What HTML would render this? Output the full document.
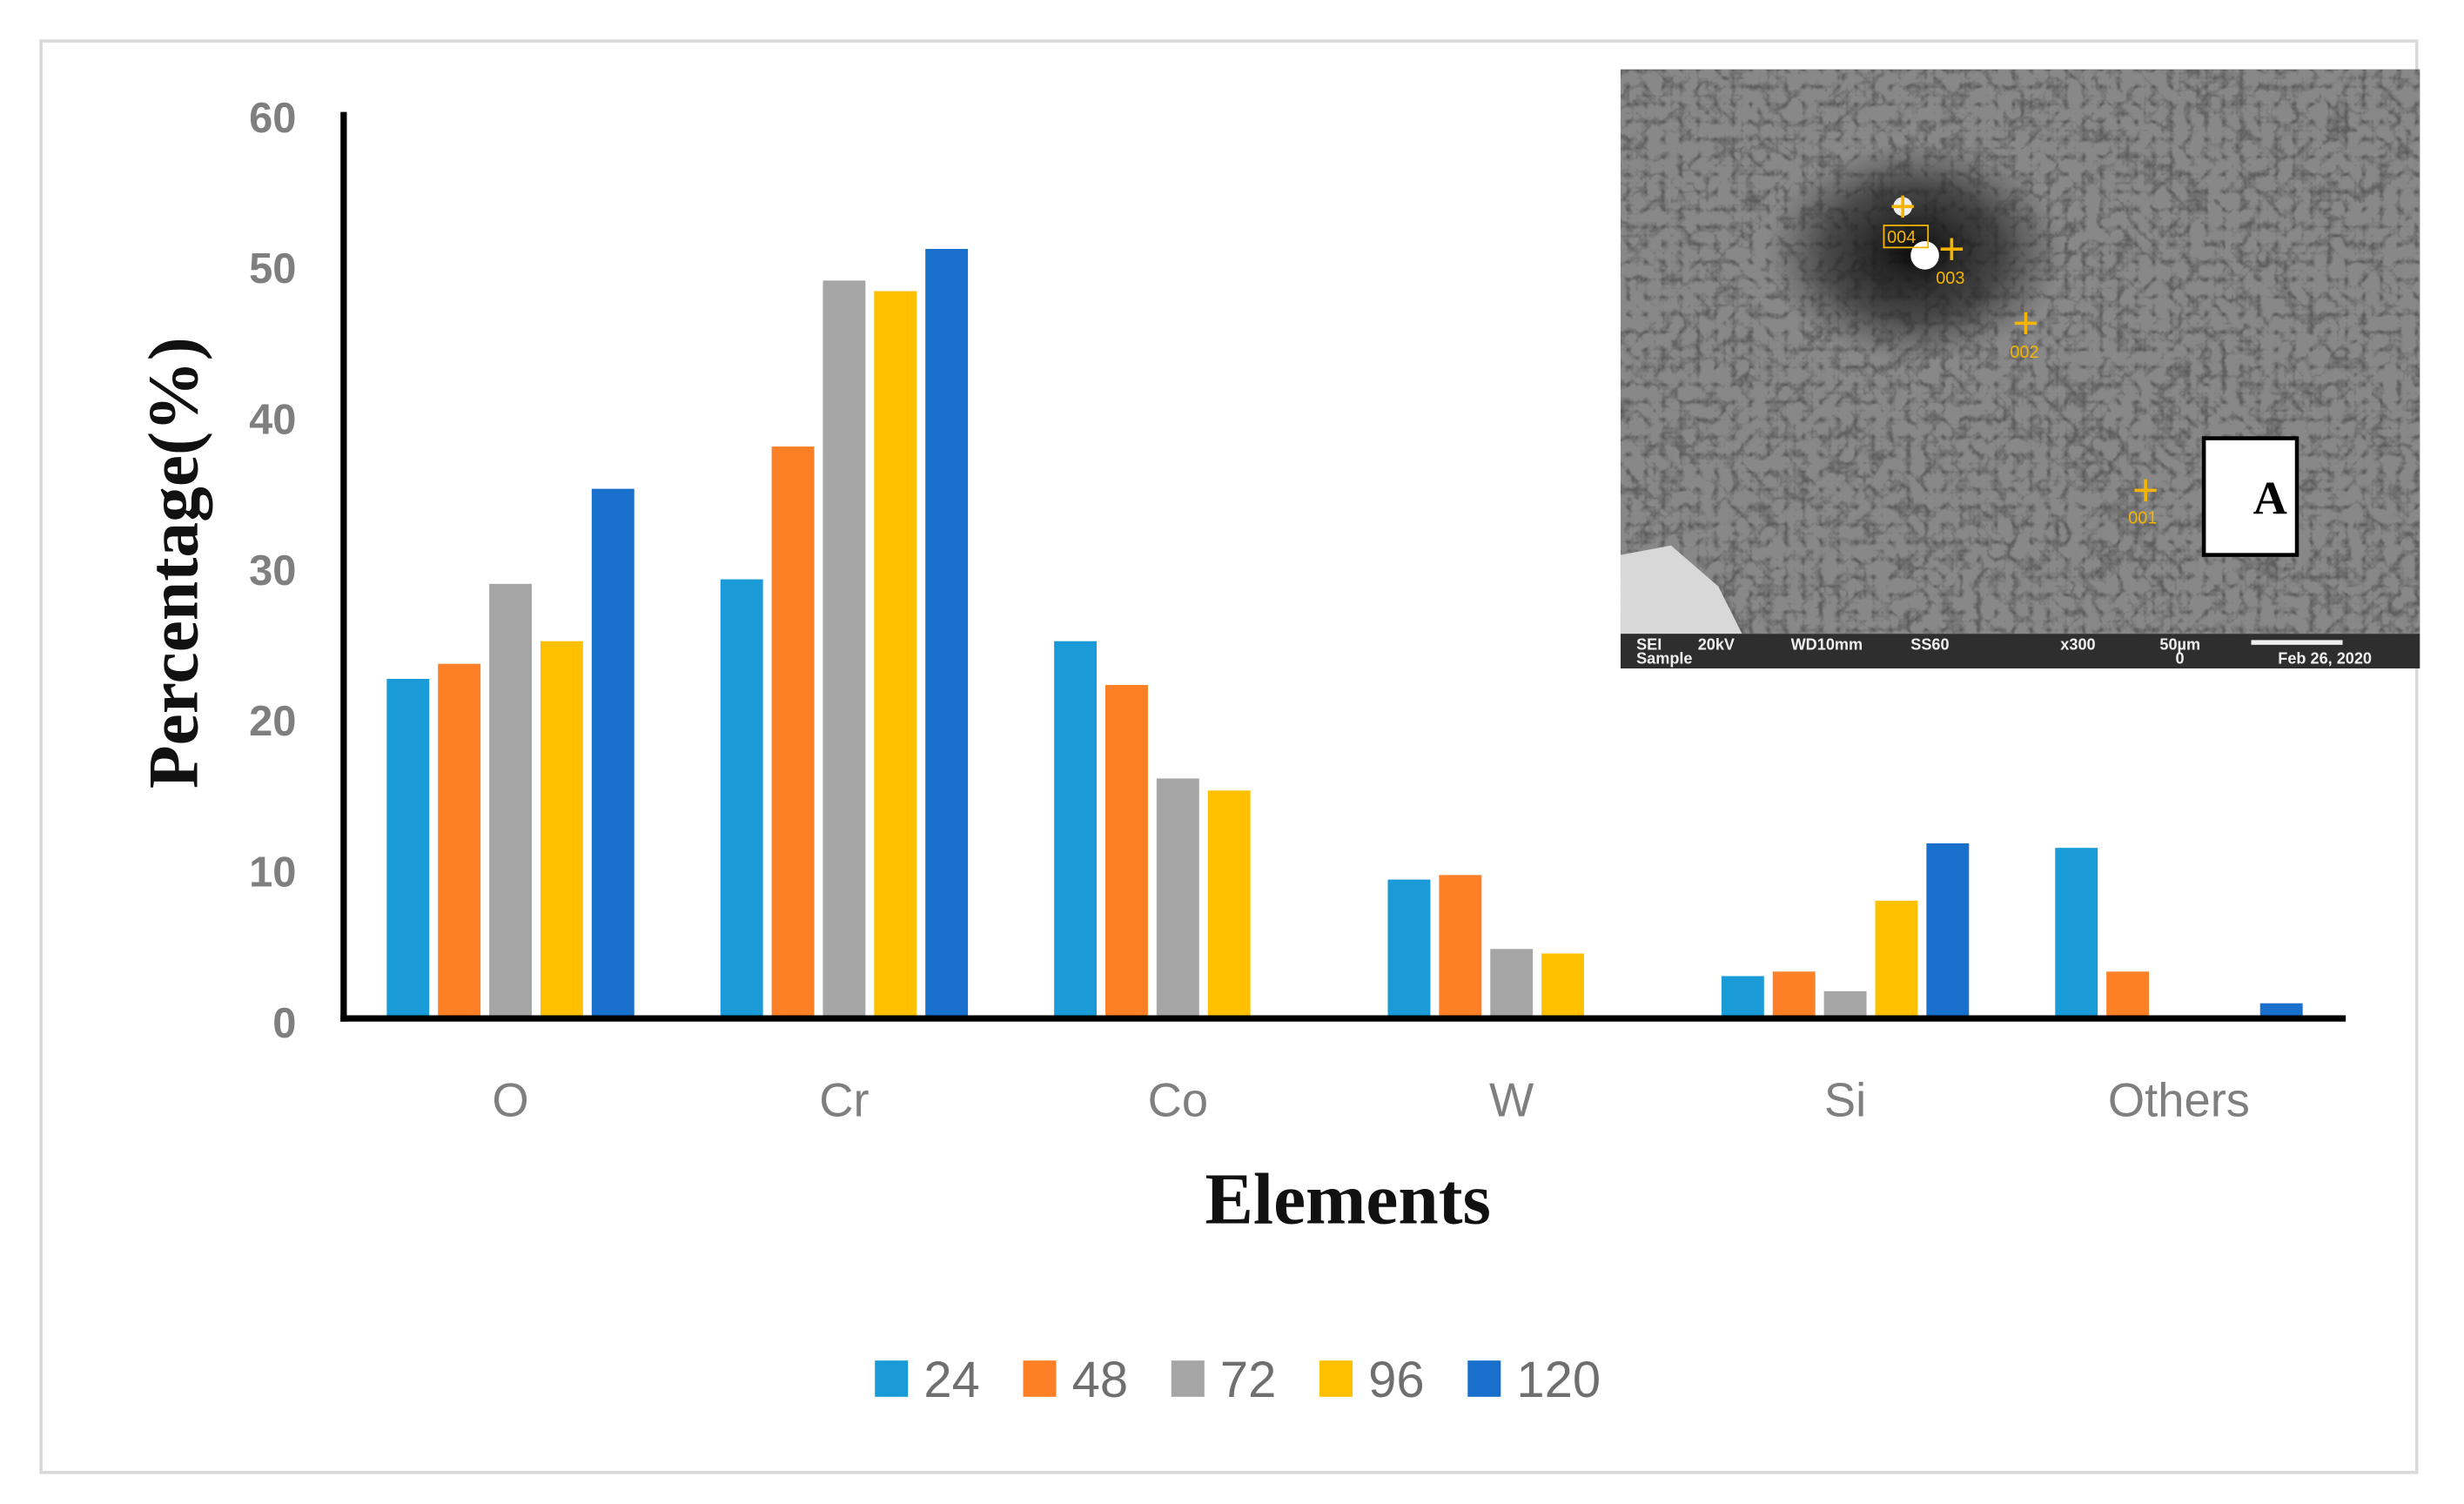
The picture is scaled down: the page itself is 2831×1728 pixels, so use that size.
<!DOCTYPE html>
<html><head><meta charset="utf-8">
<style>
html,body{margin:0;padding:0;background:#fff;}
svg{display:block;}
.tick{font-family:"Liberation Sans",sans-serif;font-weight:bold;fill:#7f7f7f;font-size:27px;}
.cat{font-family:"Liberation Sans",sans-serif;fill:#7f7f7f;font-size:30px;}
.leg{font-family:"Liberation Sans",sans-serif;fill:#6f6f6f;font-size:32px;}
.ttl{font-family:"Liberation Serif",serif;font-weight:bold;fill:#111;}
.sem{font-family:"Liberation Sans",sans-serif;font-weight:bold;fill:#eee;font-size:10px;}
.ylab{font-family:"Liberation Sans",sans-serif;fill:#f5b400;font-size:11px;}
</style></head>
<body>
<svg id="chart" width="2831" height="1728" viewBox="0 0 1563 954" preserveAspectRatio="none" xmlns="http://www.w3.org/2000/svg">
<defs>
<filter id="sem" x="0" y="0" width="100%" height="100%">
<feTurbulence type="turbulence" baseFrequency="0.09" numOctaves="3" seed="4" result="t"/>
<feColorMatrix in="t" type="matrix" values="0 0 0 0 0.35  0 0 0 0 0.35  0 0 0 0 0.35  1.4 1.4 1.4 0 -0.4" result="c"/>
<feComposite in="c" in2="SourceGraphic" operator="in"/>
</filter>
<radialGradient id="dark" cx="0.5" cy="0.5" r="0.5">
<stop offset="0" stop-color="#050505" stop-opacity="0.95"/>
<stop offset="0.6" stop-color="#202020" stop-opacity="0.6"/>
<stop offset="1" stop-color="#404040" stop-opacity="0"/>
</radialGradient>
</defs>
<rect x="26" y="26" width="1507" height="908" fill="#fff" stroke="#d9d9d9" stroke-width="2"/>

<g id="inset">
<rect x="1028" y="44" width="507" height="358" fill="#5e5e5e"/>
<rect x="1028" y="44" width="507" height="358" fill="#fff" filter="url(#sem)" opacity="0.65"/>
<ellipse cx="1215" cy="160" rx="95" ry="70" fill="url(#dark)"/>
<path d="M1028 352 L1060 346 L1090 372 L1105 402 L1028 402 Z" fill="#d8d8d8"/>
<circle cx="1221" cy="162" r="9" fill="#fff"/>
<circle cx="1207" cy="131" r="6" fill="#eee"/>
<rect x="1028" y="402" width="507" height="22" fill="#2e2e2e"/>
<text class="sem" x="1038" y="412">SEI</text><text class="sem" x="1038" y="421">Sample</text>
<text class="sem" x="1077" y="412">20kV</text><text class="sem" x="1136" y="412">WD10mm</text>
<text class="sem" x="1212" y="412">SS60</text><text class="sem" x="1307" y="412">x300</text>
<text class="sem" x="1370" y="412">50µm</text><text class="sem" x="1380" y="421">0</text>
<rect x="1428" y="406" width="58" height="3" fill="#eee"/>
<text class="sem" x="1445" y="421">Feb 26, 2020</text>
<g stroke="#f5b400" stroke-width="2" fill="none">
<path d="M1207 124v14M1200 131h14"/><path d="M1238 151v14M1231 158h14"/>
<path d="M1285 198v14M1278 205h14"/><path d="M1361 304v14M1354 311h14"/>
<rect x="1195" y="143" width="28" height="14" stroke-width="1"/>
</g>
<text class="ylab" x="1197" y="154">004</text><text class="ylab" x="1228" y="180">003</text>
<text class="ylab" x="1275" y="227">002</text><text class="ylab" x="1350" y="332">001</text>
<rect x="1398" y="278" width="59" height="74" fill="#fff" stroke="#000" stroke-width="2.5"/>
<text x="1440" y="326" text-anchor="middle" font-family="Liberation Serif,serif" font-weight="bold" font-size="30" fill="#000">A</text>
</g>

<g id="bars"></g>
<g id="axes"></g>
<text class="ttl" font-size="45" transform="translate(125,357) rotate(-90)" text-anchor="middle">Percentage(%)</text>
<text class="ttl" font-size="46" x="855" y="776" text-anchor="middle">Elements</text>
<g id="legend"></g>
</svg>
<script>
const categories = ["O","Cr","Co","W","Si","Others"];
const seriesNames = ["24","48","72","96","120"];
const s24 = [22.4, 29.0, 24.9, 9.1, 2.7, 11.2];
const s48 = [23.4, 37.8, 22.0, 9.4, 3.0, 3.0];
const s72 = [28.7, 48.8, 15.8, 4.5, 1.7, 0];
const s96 = [24.9, 48.1, 15.0, 4.2, 7.7, 0];
const s120 = [35.0, 50.9, 0, 0, 11.5, 0.9];
const yTicks = [0,10,20,30,40,50,60];
const colors = ["#1a9ad6","#fd7f26","#a5a5a5","#ffc000","#1870cc"];
const series = [s24,s48,s72,s96,s120];
const NS = "http://www.w3.org/2000/svg";
const X0 = 218, X1 = 1488, Y0 = 645, PER = 9.57;
function yScale(v){ return Y0 - v*PER; }
function xCenter(i){ return X0 + (X1-X0)/categories.length*(i+0.5); }
function mk(tag, attrs, parent){ const e=document.createElementNS(NS,tag); for(const k in attrs) e.setAttribute(k,attrs[k]); parent.appendChild(e); return e; }
const bars=document.getElementById('bars'), axes=document.getElementById('axes'), legend=document.getElementById('legend');
const pitch=32.5, bw=27;
categories.forEach((c,i)=>{
  series.forEach((s,j)=>{
    const v=s[i]; if(v<=0) return;
    const x=xCenter(i)-2.5*pitch+j*pitch+(pitch-bw)/2;
    const r=mk('rect',{x:x,y:yScale(v),width:bw,height:Y0-yScale(v),fill:colors[j]},bars);
    
    
  });
  const t=mk('text',{x:xCenter(i),y:708,'text-anchor':'middle',class:'cat'},axes);
  t.textContent=c;
  
  
});
yTicks.forEach(v=>{
  const t=mk('text',{x:188,y:yScale(v)+13,'text-anchor':'end',class:'tick'},axes);
  t.textContent=v;
  
  
});
const ya=mk('line',{x1:X0,y1:71,x2:X0,y2:Y0+3,stroke:'#000','stroke-width':4},axes);


const xa=mk('line',{x1:X0-2,y1:Y0+1,x2:X1,y2:Y0+1,stroke:'#000','stroke-width':4},axes);


const legX=[555,649,743,837,931];
seriesNames.forEach((n,j)=>{
  const r=mk('rect',{x:legX[j],y:863,width:21,height:23,fill:colors[j]},legend);
  
  
  const t=mk('text',{x:legX[j]+31,y:886,class:'leg'},legend);
  t.textContent=n;
  
  
});
</script>
</body></html>
